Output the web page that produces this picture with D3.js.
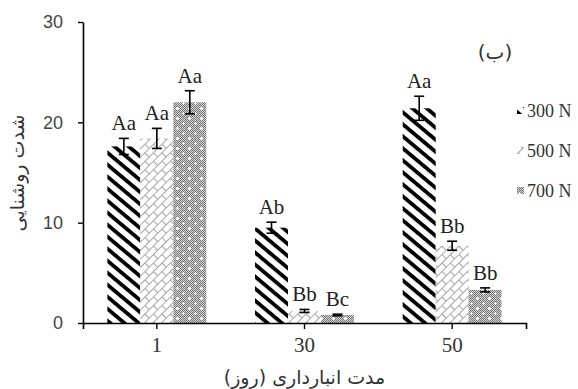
<!DOCTYPE html>
<html>
<head>
<meta charset="utf-8">
<script src="https://cdn.jsdelivr.net/npm/d3@7"></script>
<style>
  html, body { margin: 0; padding: 0; background: #fff; }
  svg { display: block; }
</style>
</head>
<body>
<script>
// Storage time (days) on the x axis, one group of bars per period
const categories = ["1", "30", "50"];
const seriesNames = ["300 N", "500 N", "700 N"];

// Mean brightness per series, in category order
const values300 = [17.6, 9.5, 21.4];
const values500 = [18.4, 1.2, 7.7];
const values700 = [22.0, 0.8, 3.3];

// Standard errors
const err300 = [0.8, 0.55, 1.2];
const err500 = [1.0, 0.15, 0.45];
const err700 = [1.15, 0.08, 0.2];

// Significance letters above each bar
const letters300 = ["Aa", "Ab", "Aa"];
const letters500 = ["Aa", "Bb", "Bb"];
const letters700 = ["Aa", "Bc", "Bb"];

const yTicks = [0, 10, 20, 30];

const W = 578, H = 389;
const svg = d3.select("body").append("svg").attr("width", W).attr("height", H);

const defs = svg.append("defs");

// 300 N: heavy black diagonal stripes
defs.append("pattern")
  .attr("id", "p300").attr("patternUnits", "userSpaceOnUse")
  .attr("width", 10).attr("height", 9.2)
  .attr("patternTransform", "rotate(40)")
  .append("rect").attr("width", 10).attr("height", 3.8).attr("fill", "#000");

// 500 N: light grey diagonal brick
const brick = defs.append("pattern")
  .attr("id", "p500").attr("patternUnits", "userSpaceOnUse")
  .attr("width", 12).attr("height", 12)
  .attr("patternTransform", "rotate(-45)");
brick.append("rect").attr("width", 12).attr("height", 12).attr("fill", "#fff");
brick.append("path")
  .attr("d", "M0,0.5H12M0,6.5H12M0.5,0.5V6.5M6.5,6.5V12.5")
  .attr("stroke", "#a8a8a8").attr("stroke-width", 1.1).attr("fill", "none");

// 700 N: fine grey checker with white crosses
const checker = defs.append("pattern")
  .attr("id", "checker").attr("patternUnits", "userSpaceOnUse")
  .attr("width", 2).attr("height", 2);
checker.append("rect").attr("width", 2).attr("height", 2).attr("fill", "#d4d4d4");
checker.append("rect").attr("width", 1).attr("height", 1).attr("fill", "#767676");
checker.append("rect").attr("x", 1).attr("y", 1).attr("width", 1).attr("height", 1).attr("fill", "#767676");
const dots = defs.append("pattern")
  .attr("id", "p700").attr("patternUnits", "userSpaceOnUse")
  .attr("width", 12).attr("height", 10);
dots.append("rect").attr("width", 12).attr("height", 10).attr("fill", "url(#checker)");
dots.append("path")
  .attr("d", "M2,3.5H5M3.5,2V5M8,8.5H11M9.5,7V10")
  .attr("stroke", "#fff").attr("stroke-width", 1).attr("fill", "none");

const fills = ["url(#p300)", "url(#p500)", "url(#p700)"];

const plotLeft = 83, plotRight = 526, plotTop = 22, plotBottom = 323;

const x0 = d3.scaleBand().domain(categories).range([plotLeft, plotRight]);
const bw = x0.bandwidth();
const x1 = d3.scaleBand().domain(seriesNames).range([bw * 0.165, bw * 0.835]);
const y = d3.scaleLinear().domain([0, 30]).range([plotBottom, plotTop]);

const valuesBySeries = [values300, values500, values700];
const errBySeries = [err300, err500, err700];
const lettersBySeries = [letters300, letters500, letters700];

const rows = [];
seriesNames.forEach((s, si) => {
  categories.forEach((c, ci) => {
    rows.push({
      series: s, si, cat: c,
      value: valuesBySeries[si][ci],
      err: errBySeries[si][ci],
      letter: lettersBySeries[si][ci]
    });
  });
});

const cx = d => x0(d.cat) + x1(d.series);

// Bars
svg.append("g").selectAll("rect").data(rows).join("rect")
  .attr("x", d => cx(d))
  .attr("y", d => y(d.value))
  .attr("width", x1.bandwidth())
  .attr("height", d => y(0) - y(d.value))
  .attr("fill", d => fills[d.si]);

// Error bars
const eb = svg.append("g").attr("stroke", "#000").attr("stroke-width", 1.6);
rows.forEach(d => {
  const mx = cx(d) + x1.bandwidth() / 2;
  const y1 = y(d.value + d.err), y2 = y(d.value - d.err);
  eb.append("line").attr("x1", mx).attr("x2", mx).attr("y1", y1).attr("y2", y2);
  eb.append("line").attr("x1", mx - 5).attr("x2", mx + 5).attr("y1", y1).attr("y2", y1);
  eb.append("line").attr("x1", mx - 5).attr("x2", mx + 5).attr("y1", y2).attr("y2", y2);
});

// Letters
svg.append("g").selectAll("text").data(rows).join("text")
  .attr("x", d => cx(d) + x1.bandwidth() / 2)
  .attr("y", d => y(d.value + d.err) - 8)
  .attr("text-anchor", "middle")
  .attr("font-family", "Liberation Serif, serif")
  .attr("font-size", 21)
  .attr("fill", "#222")
  .text(d => d.letter);

// Y axis
const yAxis = svg.append("g").attr("transform", `translate(${plotLeft},0)`)
  .call(d3.axisLeft(y).tickValues(yTicks).tickSize(5).tickSizeOuter(0).tickPadding(15));
yAxis.select(".domain").attr("stroke", "#000").attr("stroke-width", 1.6);
yAxis.selectAll(".tick line").attr("stroke", "#000").attr("stroke-width", 1.4);
yAxis.selectAll(".tick text")
  .attr("font-family", "Liberation Sans, Arial, sans-serif")
  .attr("font-size", 18).attr("fill", "#444");

// X axis
const xAxis = svg.append("g").attr("transform", `translate(0,${plotBottom})`)
  .call(d3.axisBottom(x0).tickSize(6).tickSizeOuter(6).tickPadding(8));
xAxis.select(".domain").attr("stroke", "#000").attr("stroke-width", 1.6);
xAxis.selectAll(".tick line").attr("stroke", "#000").attr("stroke-width", 1.4);
xAxis.selectAll(".tick text")
  .attr("font-family", "Liberation Serif, serif")
  .attr("font-size", 21).attr("fill", "#333");

// Axis titles
svg.append("text")
  .attr("x", (plotLeft + plotRight) / 2).attr("y", 384)
  .attr("text-anchor", "middle")
  .attr("font-family", "DejaVu Sans, sans-serif")
  .attr("font-size", 19).attr("fill", "#333")
  .text("مدت انبارداری (روز)");

svg.append("text")
  .attr("transform", "translate(24,173) rotate(-90)")
  .attr("text-anchor", "middle")
  .attr("font-family", "DejaVu Sans, sans-serif")
  .attr("font-size", 19).attr("fill", "#333")
  .text("شدت روشنایی");

// Panel tag
svg.append("text")
  .attr("x", 495).attr("y", 59)
  .attr("text-anchor", "middle")
  .attr("font-family", "DejaVu Sans, sans-serif")
  .attr("font-size", 20).attr("fill", "#333")
  .attr("letter-spacing", 3)
  .text("(ب)");

// Legend
const legend = svg.append("g");
seriesNames.forEach((s, i) => {
  const ly = 117 + i * 40;
  legend.append("rect")
    .attr("x", 517).attr("y", ly - 10).attr("width", 7).attr("height", 7)
    .attr("fill", fills[i]);
  legend.append("text")
    .attr("x", 527).attr("y", ly)
    .attr("font-family", "Liberation Serif, serif")
    .attr("font-size", 18).attr("fill", "#333")
    .text(s);
});
</script>
</body>
</html>
